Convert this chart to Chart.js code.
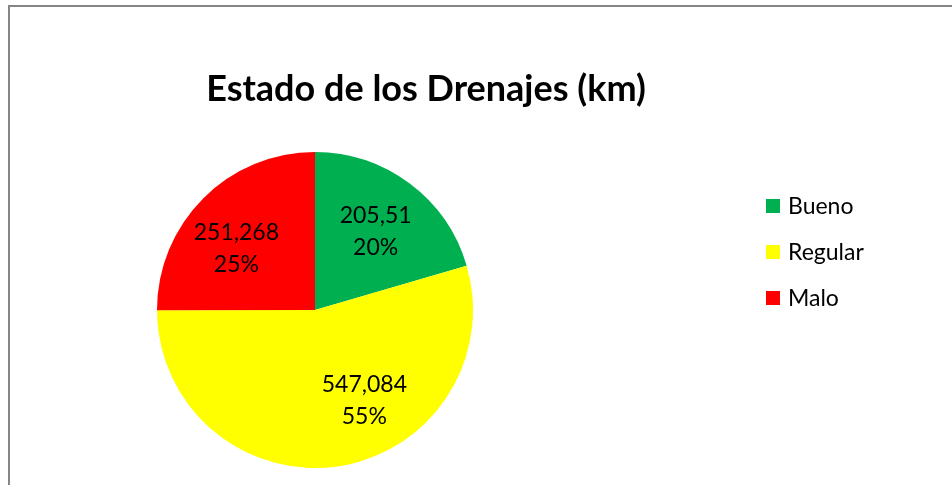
<!DOCTYPE html>
<html>
<head>
<meta charset="utf-8">
<script src="https://cdn.jsdelivr.net/npm/chart.js@4.4.0/dist/chart.umd.min.js"></script>
<style>
html,body{margin:0;padding:0;background:#fff;}
#wrap{width:952px;height:485px;position:relative;}
</style>
</head>
<body>
<div id="wrap"><canvas id="c" width="952" height="485"></canvas></div>
<script>
const categories = ["Bueno", "Regular", "Malo"];
const values = [205.51, 547.084, 251.268];
const valueLabels = ["205,51", "547,084", "251,268"];
const percentLabels = ["20%", "55%", "25%"];
const colors = ["#00B050", "#FFFF00", "#FF0000"];
const titleText = "Estado de los Drenajes (km)";

const FONT = "Lato, 'Open Sans', sans-serif";
const labelNudgeDeg = [0, -21, -6];

const decor = {
  id: 'decor',
  beforeDraw(chart) {
    const ctx = chart.ctx;
    ctx.save();
    ctx.fillStyle = '#fff';
    ctx.fillRect(0, 0, chart.width, chart.height);
    ctx.strokeStyle = '#868686';
    ctx.lineWidth = 2;
    ctx.beginPath();
    ctx.moveTo(9, chart.height + 2);
    ctx.lineTo(9, 6);
    ctx.lineTo(chart.width + 2, 6);
    ctx.stroke();
    ctx.restore();
  },
  afterDraw(chart) {
    const ctx = chart.ctx;
    ctx.save();
    // title
    ctx.fillStyle = '#000';
    ctx.font = "bold 36px " + FONT;
    ctx.textAlign = 'center';
    ctx.textBaseline = 'alphabetic';
    ctx.fillText(titleText, 426, 101);
    // data labels
    const meta = chart.getDatasetMeta(0);
    ctx.font = "23px " + FONT;
    ctx.textBaseline = 'middle';
    meta.data.forEach((arc, i) => {
      const p = arc.getProps(['x', 'y', 'startAngle', 'endAngle', 'outerRadius'], true);
      const mid = (p.startAngle + p.endAngle) / 2 + labelNudgeDeg[i] * Math.PI / 180;
      const r = p.outerRadius * 0.64;
      const cx = p.x + r * Math.cos(mid);
      const cy = p.y + r * Math.sin(mid);
      ctx.fillText(valueLabels[i], cx, cy - 14);
      ctx.fillText(percentLabels[i], cx, cy + 18);
    });
    // legend
    ctx.textAlign = 'left';
    ctx.font = "23px " + FONT;
    categories.forEach((c, i) => {
      const y = 206 + i * 46;
      ctx.fillStyle = colors[i];
      ctx.fillRect(766, y - 7, 14, 14);
      ctx.fillStyle = '#000';
      ctx.fillText(c, 788, y + 1);
    });
    ctx.restore();
  }
};

new Chart(document.getElementById('c'), {
  type: 'pie',
  data: {
    labels: categories,
    datasets: [{
      data: values,
      backgroundColor: colors,
      borderWidth: 0
    }]
  },
  options: {
    responsive: false,
    devicePixelRatio: 1,
    animation: false,
    layout: { padding: { left: 157, right: 479, top: 152, bottom: 17 } },
    plugins: {
      legend: { display: false },
      title: { display: false },
      tooltip: { enabled: false }
    }
  },
  plugins: [decor]
});
</script>
</body>
</html>
